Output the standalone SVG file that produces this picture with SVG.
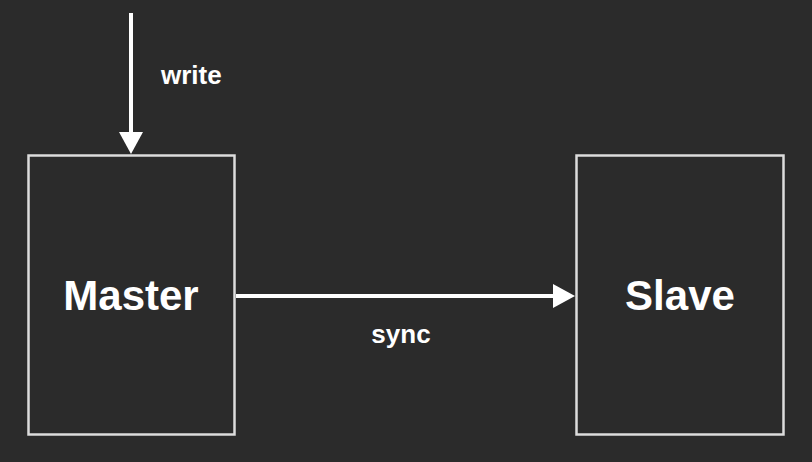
<svg xmlns="http://www.w3.org/2000/svg" width="812" height="462" viewBox="0 0 812 462">
<style>
.box{fill:#2b2b2b;stroke:#dcdcdc;stroke-width:2.5}
.big{font-family:"Liberation Sans",Arial,sans-serif;font-weight:bold;font-size:42px;fill:#ffffff;text-anchor:middle}
.lbl{font-family:"Liberation Sans",Arial,sans-serif;font-weight:bold;font-size:26px;fill:#ffffff}
.line{stroke:#ffffff;stroke-width:4;fill:none}
</style>
<rect width="812" height="462" fill="#2b2b2b"/>
<g id="master">
<rect class="box" x="28.5" y="155.5" width="206" height="279"/>
<text class="big" x="131" y="310">Master</text>
</g>
<g id="slave">
<rect class="box" x="576.5" y="155.5" width="207" height="279"/>
<text class="big" x="680" y="310">Slave</text>
</g>
<g id="connectors">
<line class="line" x1="131" y1="13" x2="131" y2="134"/>
<polygon points="119,132 143,132 131,154" fill="#ffffff"/>
<text class="lbl" x="161" y="84">write</text>
<line class="line" x1="236" y1="296" x2="555" y2="296"/>
<polygon points="553,284 553,308 575,296" fill="#ffffff"/>
<text class="lbl" x="401" y="343" text-anchor="middle">sync</text>
</g>
</svg>
